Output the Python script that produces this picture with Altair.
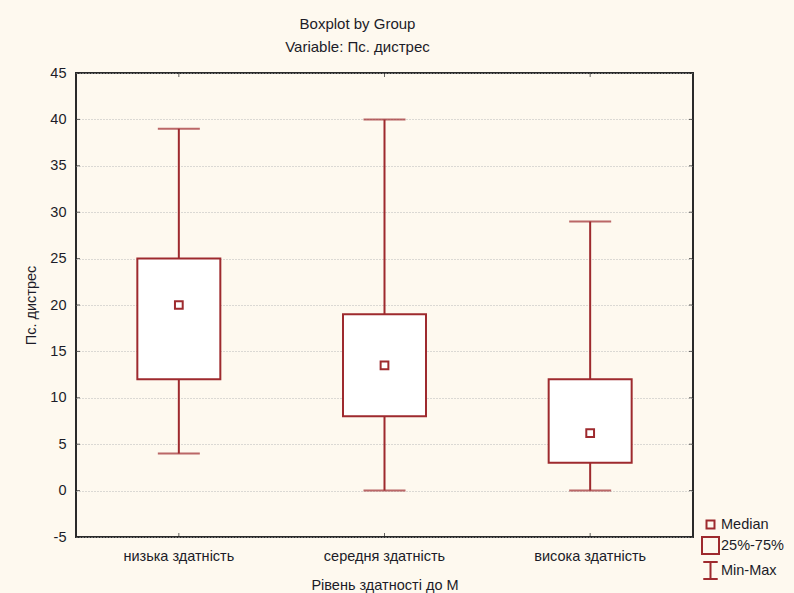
import altair as alt
import pandas as pd

# Group statistics for "Пс. дистрес"
groups = ["низька здатність", "середня здатність", "висока здатність"]
mins = [4, 0, 0]
q1s = [12, 8, 3]
medians = [20, 13.5, 6.2]
q3s = [25, 19, 12]
maxs = [39, 40, 29]

y_ticks = list(range(-5, 50, 5))
legend_items = ["Median", "25%-75%", "Min-Max"]
legend_paths = [
    "M-0.47,-0.47H0.47V0.47H-0.47Z",
    "M-1,-1H1V1H-1Z",
    "M-0.85,-1H0.85M0,-1V1M-0.85,1H0.85",
]

RED = "#9E2A2E"
FONT = "Liberation Sans"
TEXT = "#1c1c28"
FS = 14.5

df = pd.DataFrame({
    "group": groups, "min": mins, "q1": q1s, "median": medians,
    "q3": q3s, "max": maxs,
})
ticks_df = pd.DataFrame({"v": y_ticks})
legend_df = pd.DataFrame({"item": legend_items})

x_scale = alt.Scale(domain=groups, paddingInner=0, paddingOuter=0)
y_scale = alt.Scale(domain=[-5, 45], nice=False, zero=False)

x_enc = alt.X(
    "group:N", scale=x_scale, sort=groups,
    axis=alt.Axis(title="Рівень здатності до М", labelAngle=0, ticks=False,
                  domain=False, labelPadding=12, titlePadding=16),
)
y_axis = alt.Axis(title="Пс. дистрес", values=y_ticks, ticks=False, domain=False,
                  labelPadding=10, titlePadding=11, grid=True,
                  labelExpr="'' + datum.value")

base = alt.Chart(df)

whisker = base.mark_rule(color=RED, strokeWidth=2).encode(
    x=x_enc,
    y=alt.Y("min:Q", scale=y_scale, axis=y_axis),
    y2="max:Q",
)
caps_low = base.mark_tick(color=RED, size=42, thickness=2, orient="horizontal").encode(
    x=alt.X("group:N", scale=x_scale, sort=groups), y=alt.Y("min:Q", scale=y_scale)
)
caps_high = base.mark_tick(color=RED, size=42, thickness=2, orient="horizontal").encode(
    x=alt.X("group:N", scale=x_scale, sort=groups), y=alt.Y("max:Q", scale=y_scale)
)
box = base.mark_bar(fill="white", stroke=RED, strokeWidth=2, size=83).encode(
    x=alt.X("group:N", scale=x_scale, sort=groups),
    y=alt.Y("q1:Q", scale=y_scale),
    y2="q3:Q",
)
median = base.mark_point(shape="square", size=60, filled=False, fill="white",
                         stroke=RED, strokeWidth=2, opacity=1).encode(
    x=alt.X("group:N", scale=x_scale, sort=groups),
    y=alt.Y("median:Q", scale=y_scale),
)

# inward tick marks on all four sides of the frame
left_ticks = alt.Chart(ticks_df).mark_tick(color="#222", size=4, thickness=1,
                                            orient="horizontal").encode(
    y=alt.Y("v:Q", scale=y_scale), x=alt.value(2)
)
right_ticks = alt.Chart(ticks_df).mark_tick(color="#222", size=4, thickness=1,
                                             orient="horizontal").encode(
    y=alt.Y("v:Q", scale=y_scale), x=alt.value(615)
)
bottom_ticks = base.mark_tick(color="#222", size=4, thickness=1,
                              orient="vertical").encode(
    x=alt.X("group:N", scale=x_scale, sort=groups), y=alt.value(462)
)
top_ticks = base.mark_tick(color="#222", size=4, thickness=1,
                           orient="vertical").encode(
    x=alt.X("group:N", scale=x_scale, sort=groups), y=alt.value(2)
)

legend_layer = alt.Chart(legend_df).mark_point(color=RED, filled=False,
                                                 opacity=0, strokeWidth=2).encode(
    shape=alt.Shape("item:N", sort=legend_items,
                    scale=alt.Scale(domain=legend_items, range=legend_paths),
                    legend=alt.Legend(title=None, orient="none", legendX=625,
                                      legendY=442, symbolSize=289,
                                      symbolOpacity=1, symbolStrokeColor=RED,
                                      symbolFillColor="transparent",
                                      symbolStrokeWidth=2, rowPadding=0,
                                      labelOffset=1, labelFontSize=FS,
                                      labelFont=FONT, labelColor=TEXT)),
)

chart = alt.layer(
    whisker, caps_low, caps_high, box, median,
    left_ticks, right_ticks, bottom_ticks, top_ticks, legend_layer,
).properties(
    width=617,
    height=464,
    title=alt.TitleParams(
        text=["Boxplot by Group", "Variable: Пс. дистрес"],
        anchor="middle", dx=-27, offset=10, lineHeight=23,
        fontSize=15, fontWeight="normal", font=FONT, color=TEXT,
    ),
    autosize=alt.AutoSizeParams(type="none"),
    padding={"left": 76, "top": 73, "right": 101, "bottom": 56},
    background="#FEF9EF",
).configure_view(
    fill="white", stroke="#2a2a2a", strokeWidth=2,
).configure_axis(
    labelFont=FONT, titleFont=FONT, labelFontSize=FS, titleFontSize=FS,
    labelColor=TEXT, titleColor=TEXT, titleFontWeight="normal",
    gridColor="#b8b8b8", gridDash=[1, 2], gridWidth=1,
)

chart.save("out.html", embed_options={"renderer": "svg", "actions": False})
